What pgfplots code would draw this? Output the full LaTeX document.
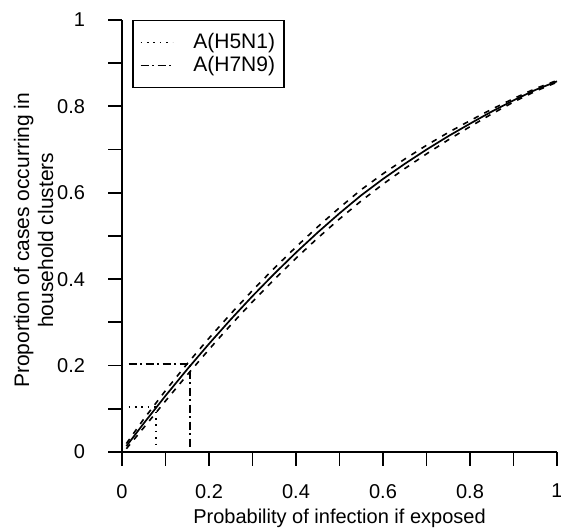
\documentclass[border=0pt]{standalone}
\usepackage{fontspec}
\setmainfont{Liberation Sans}
\usepackage{pgfplots}
\pgfplotsset{compat=1.18}

% central estimate with lower/upper band
\usepackage{pgfplotstable}
\pgfplotstableread{
p     c       lo      up
0.01  0.0135  0.0075  0.0195
0.05  0.0663  0.0563  0.0763
0.10  0.1301  0.1181  0.1421
0.15  0.1915  0.1785  0.2045
0.20  0.2504  0.2374  0.2634
0.25  0.3069  0.2939  0.3199
0.30  0.3609  0.3479  0.3739
0.35  0.4125  0.3995  0.4255
0.40  0.4616  0.4486  0.4746
0.45  0.5083  0.4953  0.5213
0.50  0.5525  0.5395  0.5655
0.55  0.5943  0.5813  0.6073
0.60  0.6320  0.6200  0.6440
0.65  0.6670  0.6560  0.6780
0.70  0.7000  0.6900  0.7100
0.75  0.7310  0.7225  0.7395
0.80  0.7600  0.7530  0.7670
0.85  0.7880  0.7825  0.7935
0.90  0.8140  0.8100  0.8180
0.95  0.8380  0.8350  0.8410
1.00  0.8580  0.8560  0.8600
}\curve

\newcommand{\lblfont}{\fontsize{10}{12}\selectfont}

\begin{document}
\begin{tikzpicture}
\begin{axis}[
    scale only axis,
    width=217.5pt,
    height=216pt,
    xmin=0, xmax=1,
    ymin=0, ymax=1,
    axis x line*=bottom,
    axis y line*=left,
    axis line style={line width=0.9pt},
    tick align=outside,
    major tick length=7pt,
    tick style={line width=0.9pt, black},
    xtick={0,0.1,0.2,0.3,0.4,0.5,0.6,0.7,0.8,0.9,1},
    xticklabels={0,,0.2,,0.4,,0.6,,0.8,,1},
    ytick={0,0.1,0.2,0.3,0.4,0.5,0.6,0.7,0.8,0.9,1},
    yticklabels={0,,0.2,,0.4,,0.6,,0.8,,1},
    xticklabel style={font=\lblfont, yshift=-5.5pt},
    yticklabel style={font=\lblfont, xshift=-8pt},
    xlabel={Probability of infection if exposed},
    ylabel={Proportion of cases occurring in\\household clusters},
    xlabel style={font=\lblfont, at={(axis description cs:0.5,-0.154)}, anchor=center},
    ylabel style={font=\fontsize{10.5}{12}\selectfont, align=center, at={(axis description cs:-0.203,0.49)}, anchor=center},
    legend style={
        at={(axis description cs:0.023,1.0)},
        anchor=north west,
        draw=black,
        line width=0.75pt,
        inner xsep=3.5pt,
        inner ysep=5.3pt,
        row sep=0.5pt,
        nodes={inner sep=1pt, font=\fontsize{10.5}{12}\selectfont},
        /tikz/column 1/.style={column sep=9pt}
    },
    legend cell align=left,
    legend image code/.code={
        \draw[#1] (6.5pt,0pt) -- (22.5pt,0pt);
    },
    clip=false
]

\addplot[black, line width=0.85pt, forget plot] table[x=p, y=c] {\curve};
\addplot[black, line width=0.8pt, dash pattern=on 2.8pt off 3.2pt, forget plot] table[x=p, y=up] {\curve};
\addplot[black, line width=0.8pt, dash pattern=on 2.8pt off 3.2pt, forget plot] table[x=p, y=lo] {\curve};

\addplot[black, line width=0.8pt, dash pattern=on 0.8pt off 2.4pt]
coordinates {(0.015,0.104) (0.078,0.104) (0.078,0.012)};
\addlegendentry{A(H5N1)}

\addplot[black, line width=0.8pt, dash pattern=on 4pt off 1.75pt on 1pt off 1.75pt]
coordinates {(0.015,0.204) (0.156,0.204) (0.156,0.012)};
\addlegendentry{A(H7N9)}

\coordinate (bl) at (axis cs:-0.2805,-0.1829);
\coordinate (tr) at (axis cs:1.0092,1.0463);
\end{axis}
\pgfresetboundingbox
\path[use as bounding box] (bl) rectangle (tr);
\end{tikzpicture}
\end{document}
